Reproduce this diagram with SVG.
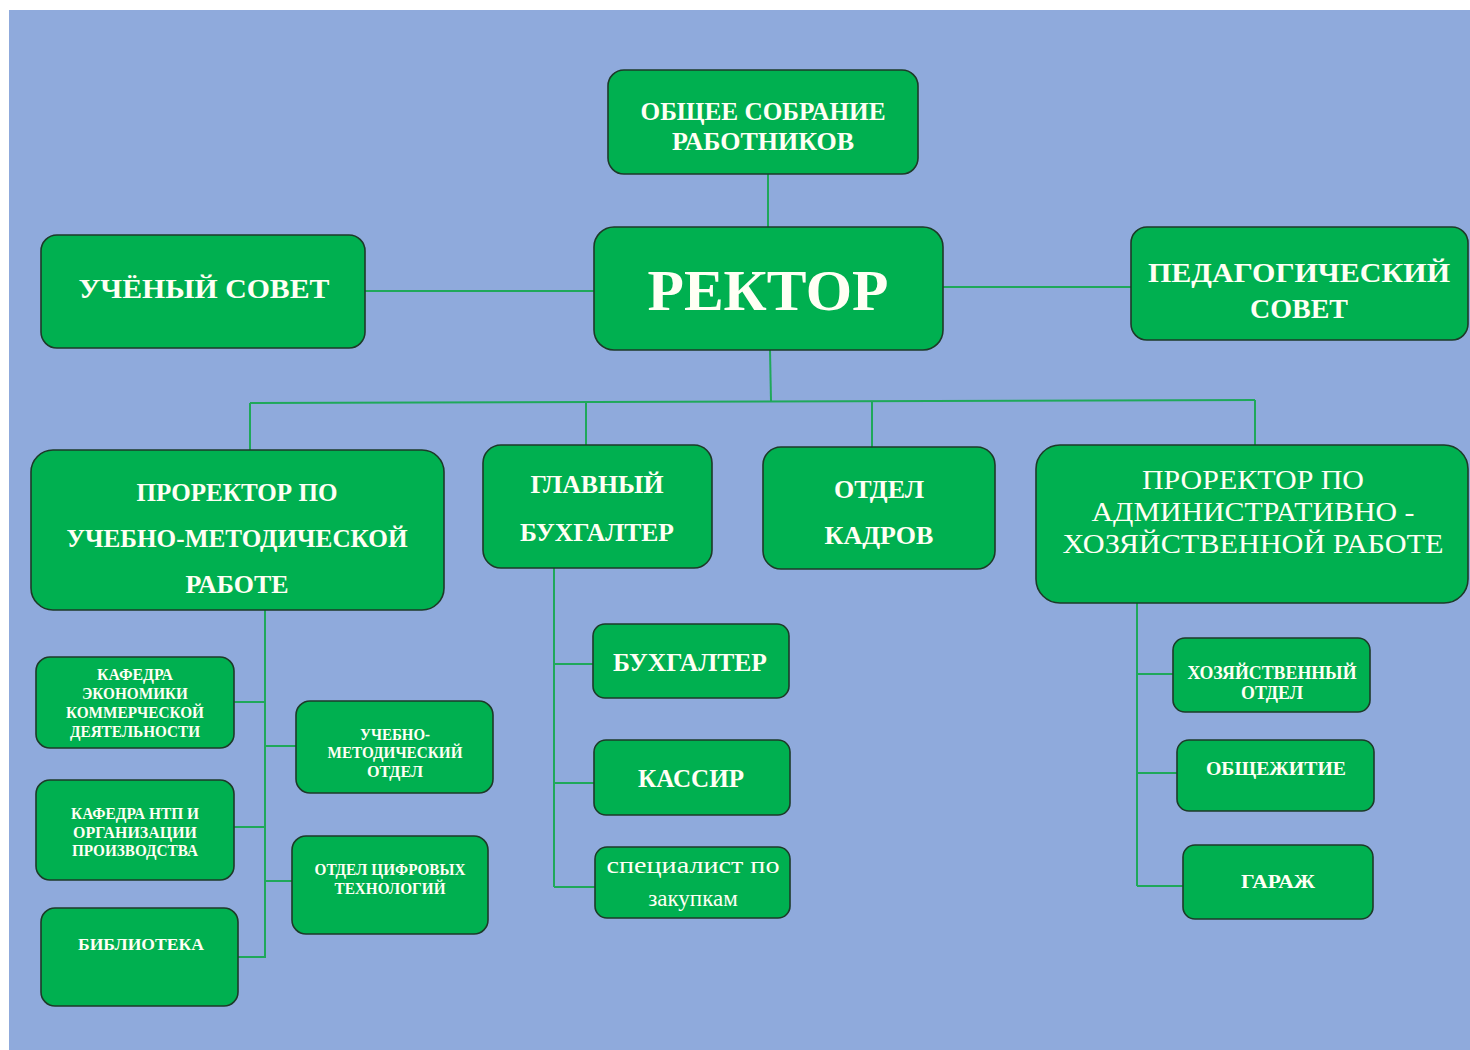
<svg xmlns="http://www.w3.org/2000/svg" width="1470" height="1050" viewBox="0 0 1470 1050">
<style>
.n{fill:#00B050;stroke:#1d3a28;stroke-width:1.6}
.t{font-family:"Liberation Serif","Times New Roman",serif;font-weight:bold;fill:#fffff4;text-anchor:middle}
.r{font-family:"Liberation Serif","Times New Roman",serif;font-weight:normal;fill:#fffff4;text-anchor:middle}
.c{stroke:#1FA85A;stroke-width:2;fill:none}
</style>
<rect x="0" y="0" width="1470" height="1050" fill="#ffffff"/>
<rect x="9" y="10" width="1461" height="1040" fill="#8FAADC"/>
<g id="connectors">
<path class="c" d="M768 174V227"/>
<path class="c" d="M365 291H594"/>
<path class="c" d="M943 287H1131"/>
<path class="c" d="M770 350L771 401"/>
<path class="c" d="M250 403L1255 400"/>
<path class="c" d="M250 403V450M586 402V445M872 401V447M1255 400V445"/>
<path class="c" d="M265 610V958"/>
<path class="c" d="M234 702H265M265 746H296M234 827H265M265 881H292M238 957H265"/>
<path class="c" d="M554 568V887M554 664H593M554 783H594M554 887H595"/>
<path class="c" d="M1137 603V886M1137 674H1173M1137 773H1177M1137 886H1183"/>
</g>
<g id="obshchee">
<rect class="n" x="608" y="70" width="310" height="104" rx="16"/>
<text class="t" font-size="26" x="763" y="120" textLength="245" lengthAdjust="spacingAndGlyphs">ОБЩЕЕ СОБРАНИЕ</text>
<text class="t" font-size="26" x="763" y="150">РАБОТНИКОВ</text>
</g>
<g id="rektor">
<rect class="n" x="594" y="227" width="349" height="123" rx="20"/>
<text class="t" font-size="58" x="768" y="310" textLength="241" lengthAdjust="spacingAndGlyphs">РЕКТОР</text>
</g>
<g id="uchenyi">
<rect class="n" x="41" y="235" width="324" height="113" rx="16"/>
<text class="t" font-size="27" x="204" y="298" textLength="251" lengthAdjust="spacingAndGlyphs">УЧЁНЫЙ СОВЕТ</text>
</g>
<g id="pedsovet">
<rect class="n" x="1131" y="227" width="337" height="113" rx="16"/>
<text class="t" font-size="28" x="1299" y="282" textLength="302" lengthAdjust="spacingAndGlyphs">ПЕДАГОГИЧЕСКИЙ</text>
<text class="t" font-size="28" x="1299" y="318">СОВЕТ</text>
</g>
<g id="prorektor-umr">
<rect class="n" x="31" y="450" width="413" height="160" rx="22"/>
<text class="t" font-size="26" x="237" y="501" textLength="201" lengthAdjust="spacingAndGlyphs">ПРОРЕКТОР ПО</text>
<text class="t" font-size="26" x="237" y="547" textLength="341" lengthAdjust="spacingAndGlyphs">УЧЕБНО-МЕТОДИЧЕСКОЙ</text>
<text class="t" font-size="26" x="237" y="593" textLength="103" lengthAdjust="spacingAndGlyphs">РАБОТЕ</text>
</g>
<g id="glavbuh">
<rect class="n" x="483" y="445" width="229" height="123" rx="18"/>
<text class="t" font-size="26" x="597" y="493" textLength="133" lengthAdjust="spacingAndGlyphs">ГЛАВНЫЙ</text>
<text class="t" font-size="26" x="597" y="541" textLength="154" lengthAdjust="spacingAndGlyphs">БУХГАЛТЕР</text>
</g>
<g id="kadry">
<rect class="n" x="763" y="447" width="232" height="122" rx="18"/>
<text class="t" font-size="26" x="879" y="498">ОТДЕЛ</text>
<text class="t" font-size="26" x="879" y="544">КАДРОВ</text>
</g>
<g id="prorektor-ahr">
<rect class="n" x="1036" y="445" width="432" height="158" rx="24"/>
<text class="r" font-size="28" x="1253" y="489" textLength="222" lengthAdjust="spacingAndGlyphs">ПРОРЕКТОР ПО</text>
<text class="r" font-size="28" x="1253" y="521" textLength="323" lengthAdjust="spacingAndGlyphs">АДМИНИСТРАТИВНО -</text>
<text class="r" font-size="28" x="1253" y="553" textLength="381" lengthAdjust="spacingAndGlyphs">ХОЗЯЙСТВЕННОЙ РАБОТЕ</text>
</g>
<g id="kafedra-ek">
<rect class="n" x="36" y="657" width="198" height="91" rx="14"/>
<text class="t" font-size="17" x="135" y="680" textLength="76" lengthAdjust="spacingAndGlyphs">КАФЕДРА</text>
<text class="t" font-size="17" x="135" y="699" textLength="106" lengthAdjust="spacingAndGlyphs">ЭКОНОМИКИ</text>
<text class="t" font-size="17" x="135" y="718" textLength="138" lengthAdjust="spacingAndGlyphs">КОММЕРЧЕСКОЙ</text>
<text class="t" font-size="17" x="135" y="737" textLength="130" lengthAdjust="spacingAndGlyphs">ДЕЯТЕЛЬНОСТИ</text>
</g>
<g id="kafedra-ntp">
<rect class="n" x="36" y="780" width="198" height="100" rx="14"/>
<text class="t" font-size="17" x="135" y="819" textLength="128" lengthAdjust="spacingAndGlyphs">КАФЕДРА НТП И</text>
<text class="t" font-size="17" x="135" y="838" textLength="124" lengthAdjust="spacingAndGlyphs">ОРГАНИЗАЦИИ</text>
<text class="t" font-size="17" x="135" y="856" textLength="126" lengthAdjust="spacingAndGlyphs">ПРОИЗВОДСТВА</text>
</g>
<g id="biblioteka">
<rect class="n" x="41" y="908" width="197" height="98" rx="14"/>
<text class="t" font-size="17" x="141" y="950" textLength="126" lengthAdjust="spacingAndGlyphs">БИБЛИОТЕКА</text>
</g>
<g id="umo">
<rect class="n" x="296" y="701" width="197" height="92" rx="14"/>
<text class="t" font-size="17" x="395" y="740" textLength="70" lengthAdjust="spacingAndGlyphs">УЧЕБНО-</text>
<text class="t" font-size="17" x="395" y="758" textLength="135" lengthAdjust="spacingAndGlyphs">МЕТОДИЧЕСКИЙ</text>
<text class="t" font-size="17" x="395" y="777" textLength="56" lengthAdjust="spacingAndGlyphs">ОТДЕЛ</text>
</g>
<g id="oct">
<rect class="n" x="292" y="836" width="196" height="98" rx="14"/>
<text class="t" font-size="17" x="390" y="875" textLength="151" lengthAdjust="spacingAndGlyphs">ОТДЕЛ ЦИФРОВЫХ</text>
<text class="t" font-size="17" x="390" y="894" textLength="111" lengthAdjust="spacingAndGlyphs">ТЕХНОЛОГИЙ</text>
</g>
<g id="buhgalter">
<rect class="n" x="593" y="624" width="196" height="74" rx="12"/>
<text class="t" font-size="25" x="690" y="671" textLength="154" lengthAdjust="spacingAndGlyphs">БУХГАЛТЕР</text>
</g>
<g id="kassir">
<rect class="n" x="594" y="740" width="196" height="75" rx="12"/>
<text class="t" font-size="25" x="691" y="787" textLength="106" lengthAdjust="spacingAndGlyphs">КАССИР</text>
</g>
<g id="specialist">
<rect class="n" x="595" y="847" width="195" height="71" rx="12"/>
<text class="r" font-size="23" x="693" y="873" textLength="173" lengthAdjust="spacingAndGlyphs">специалист по</text>
<text class="r" font-size="23" x="693" y="906">закупкам</text>
</g>
<g id="hoz-otdel">
<rect class="n" x="1173" y="638" width="197" height="74" rx="12"/>
<text class="t" font-size="19" x="1272" y="679" textLength="169" lengthAdjust="spacingAndGlyphs">ХОЗЯЙСТВЕННЫЙ</text>
<text class="t" font-size="19" x="1272" y="699" textLength="62" lengthAdjust="spacingAndGlyphs">ОТДЕЛ</text>
</g>
<g id="obshchezhitie">
<rect class="n" x="1177" y="740" width="197" height="71" rx="12"/>
<text class="t" font-size="19" x="1276" y="775" textLength="140" lengthAdjust="spacingAndGlyphs">ОБЩЕЖИТИЕ</text>
</g>
<g id="garazh">
<rect class="n" x="1183" y="845" width="190" height="74" rx="12"/>
<text class="t" font-size="19" x="1278" y="888" textLength="74" lengthAdjust="spacingAndGlyphs">ГАРАЖ</text>
</g>
</svg>
